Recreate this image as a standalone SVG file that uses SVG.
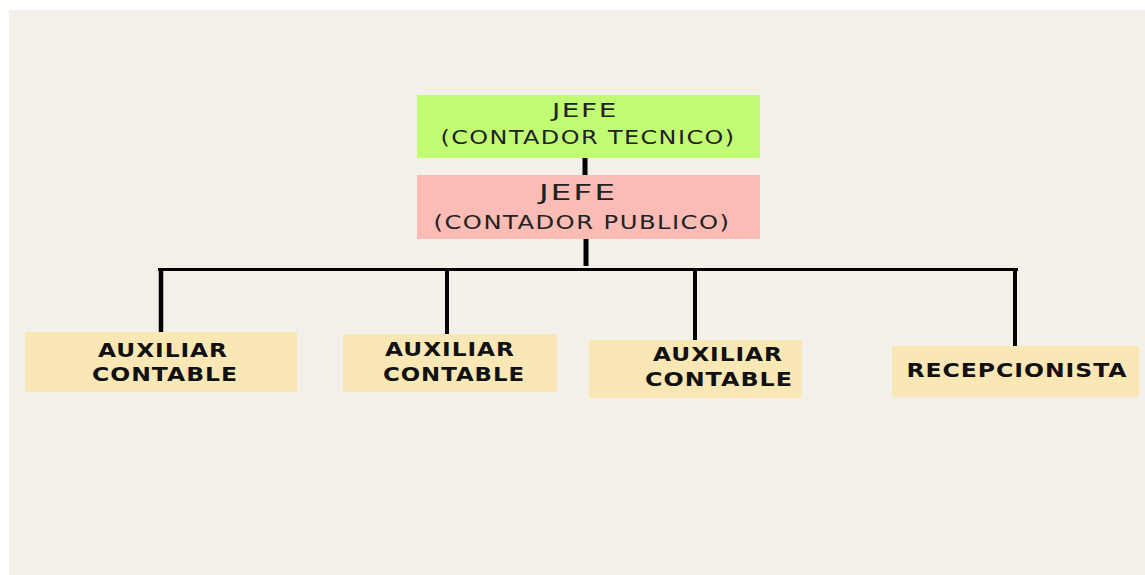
<svg xmlns="http://www.w3.org/2000/svg" width="1145" height="575" viewBox="0 0 1145 575">
<style>
.t{font-family:"DejaVu Sans","Liberation Sans",sans-serif;font-size:20px;letter-spacing:1.2px;fill:#222;text-anchor:middle}
.b{font-family:"DejaVu Sans","Liberation Sans",sans-serif;font-size:19.5px;font-weight:bold;letter-spacing:0.8px;fill:#111;text-anchor:middle}
.aux{fill:#f9e8b6}
.ln{stroke:#000;fill:none}
</style>
<rect x="0" y="0" width="1145" height="575" fill="#ffffff"/>
<rect x="9" y="10" width="1136" height="565" fill="#f3efe9"/>
<g id="connectors">
<line class="ln" x1="585" y1="158" x2="585" y2="175" stroke-width="5"/>
<line class="ln" x1="586" y1="239" x2="586" y2="266" stroke-width="5"/>
<line class="ln" x1="158" y1="269.5" x2="1018" y2="269.5" stroke-width="3"/>
<line class="ln" x1="161" y1="268" x2="161" y2="332" stroke-width="4.5"/>
<line class="ln" x1="447" y1="268" x2="447" y2="338" stroke-width="4"/>
<line class="ln" x1="695" y1="268" x2="695" y2="341" stroke-width="4"/>
<line class="ln" x1="1015" y1="268" x2="1015" y2="346" stroke-width="4"/>
</g>
<g id="jefe-tecnico">
<rect x="417" y="95" width="343" height="63" fill="#c1fd72"/>
<text class="t" x="585" y="117" textLength="66" lengthAdjust="spacingAndGlyphs">JEFE</text>
<text class="t" x="588" y="144" textLength="295" lengthAdjust="spacingAndGlyphs">(CONTADOR TECNICO)</text>
</g>
<g id="jefe-publico">
<rect x="417" y="175" width="343" height="64" fill="#fbbcb5"/>
<text class="t" x="578" y="200" style="font-size:21.5px" textLength="78" lengthAdjust="spacingAndGlyphs">JEFE</text>
<text class="t" x="582" y="229" textLength="297" lengthAdjust="spacingAndGlyphs">(CONTADOR PUBLICO)</text>
</g>
<g id="aux1">
<rect class="aux" x="25" y="332" width="272" height="60"/>
<text class="b" x="163" y="357" textLength="130" lengthAdjust="spacingAndGlyphs">AUXILIAR</text>
<text class="b" x="165" y="381" textLength="146" lengthAdjust="spacingAndGlyphs">CONTABLE</text>
</g>
<g id="aux2">
<rect class="aux" x="343" y="334" width="214" height="58"/>
<text class="b" x="450" y="356" textLength="130" lengthAdjust="spacingAndGlyphs">AUXILIAR</text>
<text class="b" x="454" y="381" textLength="142" lengthAdjust="spacingAndGlyphs">CONTABLE</text>
</g>
<g id="aux3">
<rect class="aux" x="589" y="340" width="213" height="58"/>
<text class="b" x="718" y="361" textLength="130" lengthAdjust="spacingAndGlyphs">AUXILIAR</text>
<text class="b" x="719" y="386" textLength="148" lengthAdjust="spacingAndGlyphs">CONTABLE</text>
</g>
<g id="recepcionista">
<rect class="aux" x="892" y="346" width="247" height="51"/>
<text class="b" x="1017" y="377" textLength="221" lengthAdjust="spacingAndGlyphs">RECEPCIONISTA</text>
</g>
</svg>
